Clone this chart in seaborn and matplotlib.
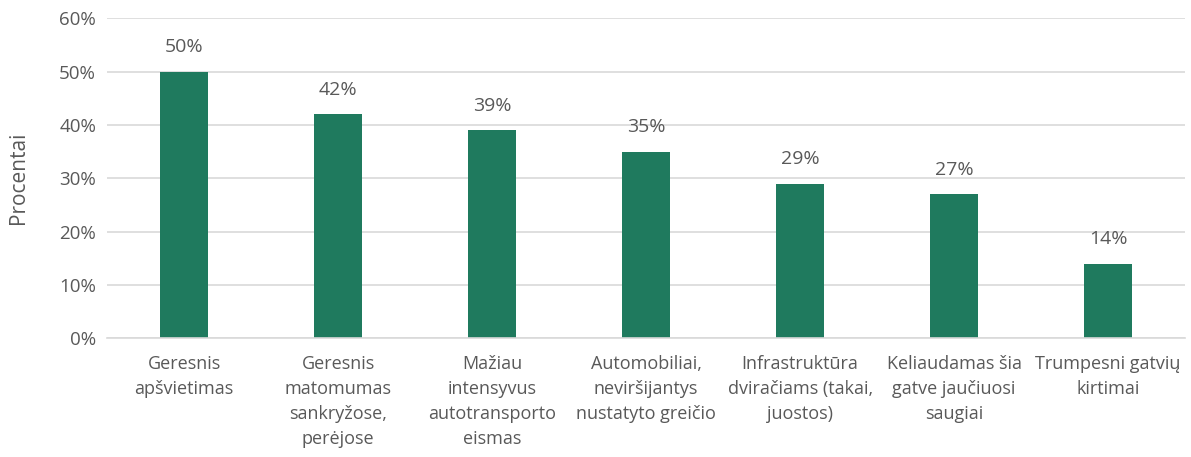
import matplotlib
matplotlib.use("Agg")
import matplotlib.pyplot as plt
import seaborn as sns
import pandas as pd

categories = [
    "Geresnis\napšvietimas",
    "Geresnis\nmatomumas\nsankryžose,\nperėjose",
    "Mažiau\nintensyvus\nautotransporto\neismas",
    "Automobiliai,\nneviršijantys\nnustatyto greičio",
    "Infrastruktūra\ndviračiams (takai,\njuostos)",
    "Keliaudamas šia\ngatve jaučiuosi\nsaugiai",
    "Trumpesni gatvių\nkirtimai",
]
values = [50, 42, 39, 35, 29, 27, 14]
yticks = [0, 10, 20, 30, 40, 50, 60]
ylabel = "Procentai"

sns.set_theme(style="white")
plt.rcParams["font.family"] = ["Open Sans", "DejaVu Sans"]
gray = "#595959"

df = pd.DataFrame({"cat": categories, "val": values})
fig = plt.figure(figsize=(11.91, 4.57), dpi=100)
ax = fig.add_axes([0.09, 0.26, 0.905, 0.70])
sns.barplot(data=df, x="cat", y="val", color="#1F7A5E", saturation=1, width=0.31,
            linewidth=0, ax=ax)

ax.set_ylim(0, 60)
ax.set_yticks(yticks)
ax.set_yticklabels([f"{t}%" for t in yticks], color=gray, fontsize=13.5)
ax.set_xticks(range(len(categories)))
ax.set_xticklabels(categories, color=gray, fontsize=13, linespacing=1.5)
ax.set_xlabel("")
ax.set_ylabel(ylabel, color=gray, fontsize=15, labelpad=22)
ax.yaxis.grid(True, color="#D9D9D9", linewidth=1.2)
ax.set_axisbelow(True)
for s in ["top", "right", "left"]:
    ax.spines[s].set_visible(False)
ax.spines["bottom"].set_color("#D9D9D9")
ax.spines["bottom"].set_linewidth(1.2)
ax.tick_params(axis="both", length=0, pad=8)
ax.tick_params(axis="x", pad=12)

for i, v in enumerate(values):
    ax.annotate(f"{v}%", (i, v), xytext=(0, 11), textcoords="offset points",
                ha="center", va="bottom", color=gray, fontsize=14)

fig.savefig("out.png", dpi=100)
